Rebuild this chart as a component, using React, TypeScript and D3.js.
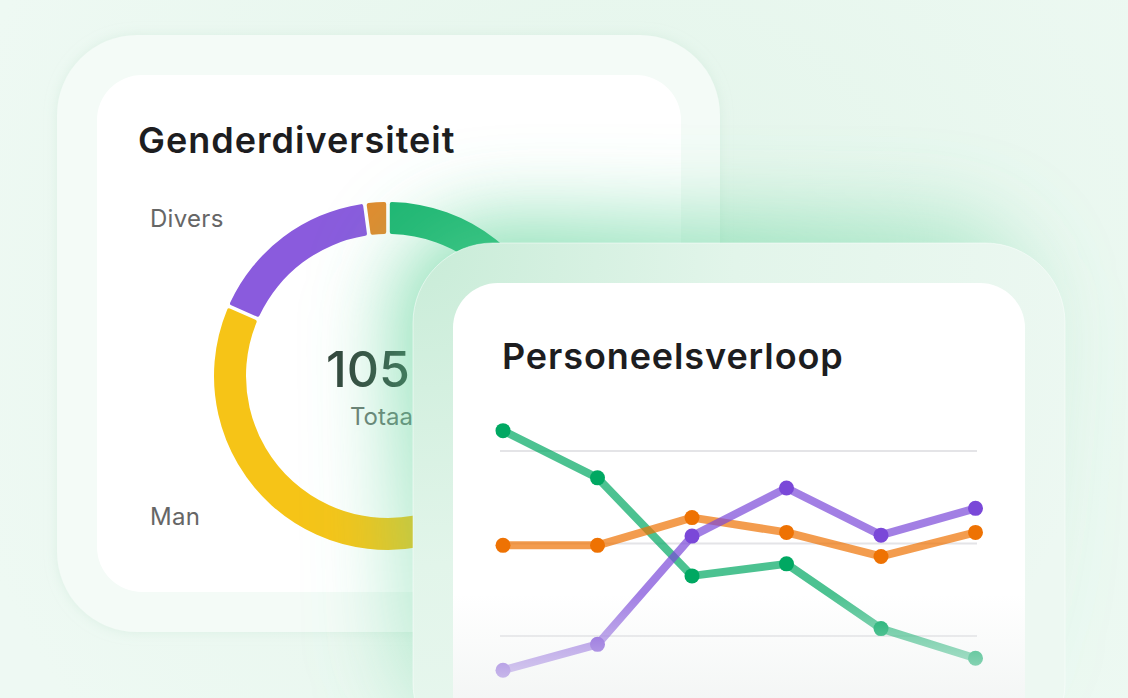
import React from 'react';
import * as d3 from 'd3';

// donut: genderverdeling
const genders = ['Vrouw', 'Man', 'Divers', 'Onbekend'];
const genderCounts = [44, 42, 17, 2];
const genderColors = ['#1fb673', '#f6c417', '#8a5bdd', '#e08b2e'];
const totalLabel = 'Totaal';

// line chart: personeelsverloop per maand
const months = ['jan', 'feb', 'mrt', 'apr', 'mei', 'jun'];
const instroom = [32.2, 27.1, 16.5, 17.8, 10.8, 7.6];
const uitstroom = [19.8, 19.8, 22.8, 21.2, 18.6, 21.2];
const doorstroom = [6.3, 9.1, 20.8, 26.0, 20.9, 23.8];
const gridValues = [10, 20, 30];

const W = 1128;
const H = 698;
const FONT = 'Inter, "Noto Sans", sans-serif';

export default function App() {
  // donut
  const cx = 388;
  const cy = 376;
  const pie = d3.pie<number>().sort(null).padAngle(0.016);
  const arcs = pie(genderCounts);
  const arcGen = d3.arc<d3.PieArcDatum<number>>()
    .innerRadius(142)
    .outerRadius(174)
    .cornerRadius(2);
  const total = d3.sum(genderCounts);

  // line chart
  const x = d3.scalePoint<string>().domain(months).range([503, 975.5]);
  const y = d3.scaleLinear().domain([10, 30]).range([636, 451]);
  const line = d3.line<number>()
    .x((_, i) => x(months[i]) as number)
    .y(d => y(d));

  const series = [
    { name: 'Instroom', values: instroom, color: '#00a862' },
    { name: 'Uitstroom', values: uitstroom, color: '#ee7203' },
    { name: 'Doorstroom', values: doorstroom, color: '#7a48d8' },
  ];

  return (
    <svg
      width={W}
      height={H}
      style={{ position: 'absolute', left: 0, top: 0, display: 'block' }}
    >
      <defs>
        <radialGradient id="bg" gradientUnits="userSpaceOnUse" cx={640} cy={300} r={700}>
          <stop offset="0" stopColor="#e3f5ea" />
          <stop offset="1" stopColor="#eef9f3" />
        </radialGradient>
        <radialGradient id="frontFrame" gradientUnits="userSpaceOnUse" cx={420} cy={250} r={700}>
          <stop offset="0" stopColor="#c9ecd8" />
          <stop offset="0.45" stopColor="#e2f5ea" />
          <stop offset="1" stopColor="#edf8f2" />
        </radialGradient>
        <linearGradient id="glowFill" x1="0" y1="0" x2="0.7" y2="1">
          <stop offset="0" stopColor="#4fcf8f" stopOpacity={0.8} />
          <stop offset="0.45" stopColor="#5fd39a" stopOpacity={0.45} />
          <stop offset="1" stopColor="#5fd39a" stopOpacity={0.05} />
        </linearGradient>
        <linearGradient id="fade" x1="0" y1="0" x2="0" y2="1">
          <stop offset="0" stopColor="#f1f4f3" stopOpacity={0} />
          <stop offset="1" stopColor="#f1f4f3" stopOpacity={0.8} />
        </linearGradient>
        <filter id="blur" x="-50%" y="-50%" width="200%" height="200%">
          <feGaussianBlur stdDeviation={42} />
        </filter>
        <filter id="soft" x="-20%" y="-20%" width="140%" height="140%">
          <feDropShadow dx={0} dy={0} stdDeviation={6} floodColor="#cfe8da" floodOpacity={0.6} />
        </filter>
      </defs>

      <rect width={W} height={H} fill="url(#bg)" />

      {/* achterste kaart */}
      <rect x={57} y={35} width={663} height={597} rx={80} fill="#f4fbf7" filter="url(#soft)" />
      <rect x={97} y={75} width={584} height={517} rx={45} fill="#ffffff" />
      <text x={138} y={153} fontFamily={FONT} fontSize={36} fontWeight={600} letterSpacing={1} fill="#1d1d1f">
        Genderdiversiteit
      </text>
      <text x={150} y={227} fontFamily={FONT} fontSize={24} letterSpacing={0.3} fill="#666666">Divers</text>
      <text x={150} y={525} fontFamily={FONT} fontSize={24} letterSpacing={0.3} fill="#666666">Man</text>

      <g transform={`translate(${cx},${cy})`}>
        {arcs.map((a, i) => (
          <path key={genders[i]} d={arcGen(a) as string} fill={genderColors[i]} />
        ))}
      </g>
      <text x={326} y={387} fontFamily={FONT} fontSize={50} fontWeight={500} fill="#33443b">
        {total}
      </text>
      <text x={350} y={425} fontFamily={FONT} fontSize={24} fill="#6c7a73">{totalLabel}</text>

      {/* groene gloed */}
      <rect x={395} y={222} width={640} height={520} rx={100} fill="url(#glowFill)" filter="url(#blur)" />

      {/* voorste kaart */}
      <rect x={413} y={243} width={652} height={520} rx={80} fill="url(#frontFrame)" stroke="#ffffff" strokeOpacity={0.5} />
      <rect x={453} y={283} width={572} height={480} rx={45} fill="#ffffff" />
      <text x={502} y={369} fontFamily={FONT} fontSize={36} fontWeight={600} letterSpacing={0.9} fill="#1d1d1f">
        Personeelsverloop
      </text>

      {gridValues.map(v => (
        <line key={v} x1={500} x2={977} y1={y(v)} y2={y(v)} stroke="#e4e4e7" strokeWidth={2} />
      ))}

      {series.map(s => (
        <path
          key={s.name}
          d={line(s.values) as string}
          fill="none"
          stroke={s.color}
          strokeOpacity={0.7}
          strokeWidth={8}
          strokeLinejoin="round"
        />
      ))}
      {series.map(s =>
        s.values.map((v, i) => (
          <circle key={s.name + i} cx={x(months[i])} cy={y(v)} r={7.5} fill={s.color} />
        ))
      )}

      <rect x={453} y={594} width={572} height={104} fill="url(#fade)" />
    </svg>
  );
}
